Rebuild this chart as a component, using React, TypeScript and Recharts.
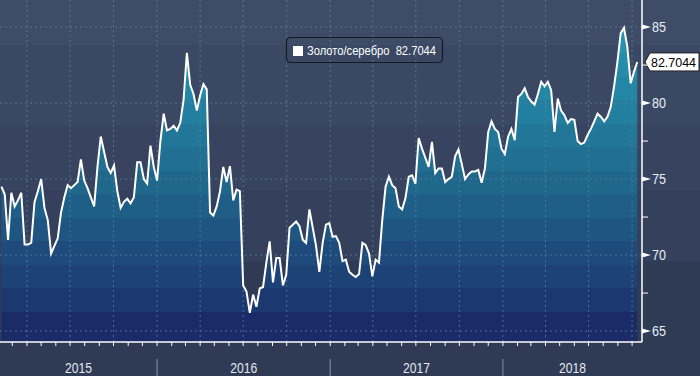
import { Area, ComposedChart, Line, ReferenceLine, XAxis, YAxis } from 'recharts';

// weekly closes, first one on 6 Feb 2015
const firstWeek = Date.UTC(2015, 1, 6);
const values2015 = [
    74.5, 74.0, 71.0, 74.1, 73.2, 73.6, 74.1, 70.7, 70.7, 70.8,
    73.5, 74.2, 75.0, 73.1, 72.3, 70.1, 70.6, 71.1, 72.8, 73.8,
    74.6, 74.4, 74.6, 74.8, 76.3, 74.9, 74.4, 73.8, 73.2, 75.8,
    77.8, 76.8, 75.8, 75.4, 75.9, 74.2, 73.1, 73.5, 73.7, 73.4,
    73.8, 76.1, 76.1, 75.0, 74.7, 77.2, 75.8,
];
const values2016 = [
    74.9, 77.5, 79.3, 78.2, 78.3, 78.5, 78.2, 78.7, 80.2, 83.3,
    81.2, 80.6, 79.5, 80.5, 81.25, 80.9, 72.8, 72.6, 73.2, 74.2,
    75.8, 74.8, 75.85, 73.6, 74.3, 74.2, 68.0, 67.6, 66.2, 67.4,
    66.6, 67.8, 67.9, 69.5, 70.9, 68.2, 69.8, 69.8, 68.0, 68.7,
    71.8, 72.0, 72.2, 71.9, 71.0, 70.8, 73.0, 71.8, 70.6, 68.9,
    70.8, 72.0, 72.1,
];
const values2017 = [
    71.2, 71.25, 70.8, 69.6, 69.7, 68.9, 68.7, 68.55, 68.75, 70.8,
    70.65, 70.1, 68.6, 69.7, 69.5, 72.3, 74.5, 75.15, 74.6, 74.4,
    73.2, 73.0, 73.75, 75.15, 75.25, 74.7, 77.7, 77.0, 76.4, 75.8,
    77.45, 75.4, 75.7, 75.7, 74.8, 75.0, 75.15, 76.5, 76.95, 76.0,
    75.0, 75.3, 75.5, 75.5, 75.6, 74.75, 75.7, 78.1, 78.8, 78.3,
    78.1, 77.0,
];
const values2018 = [
    76.65, 77.8, 78.3, 77.55, 80.4, 80.6, 80.97, 80.4, 80.1, 79.9,
    80.6, 81.4, 81.1, 81.4, 80.85, 78.1, 80.3, 79.5, 79.2, 78.7,
    78.95, 78.9, 77.5, 77.3, 77.4, 77.9, 78.3, 78.8, 79.3, 79.1,
    78.8, 79.1, 79.75, 81.1, 82.7, 84.6, 84.95, 83.7, 81.3, 82.05,
    82.7044,
];
const years = [2015, 2016, 2017, 2018];
const priceTicks = [65, 67.5, 70, 72.5, 75, 77.5, 80, 82.5, 85];
const seriesName = 'Золото/серебро';

const DAY = 86400000;
const allValues = [...values2015, ...values2016, ...values2017, ...values2018];
const data = allValues.map((v, i) => ({ t: firstWeek + i * 7 * DAY, v }));
const lastValue = allValues[allValues.length - 1];

const xStart = Date.UTC(2015, 1, 3);
const xEnd = Date.UTC(2018, 9, 22);
const yDomain = [64.28, 86.78];

const monthTicks: number[] = [];
const quarterLines: number[] = [];
years.forEach((y) => {
    for (let m = 0; m < 12; m++) {
        const t = Date.UTC(y, m, 1);
        if (t < xStart || t > xEnd) continue;
        monthTicks.push(t);
        if (m % 3 === 0) quarterLines.push(t);
    }
});

// year labels sit in the middle of the visible part of each year
const yearLabelAt = new Map<number, string>();
const yearSeparators: number[] = [];
years.forEach((y) => {
    const a = Math.max(Date.UTC(y, 0, 1), xStart);
    const b = Math.min(Date.UTC(y + 1, 0, 1), xEnd);
    yearLabelAt.set(Math.round((a + b) / 2), String(y));
    if (Date.UTC(y, 0, 1) > xStart) yearSeparators.push(Date.UTC(y, 0, 1));
});
const yearAxisTicks = [...yearLabelAt.keys(), ...yearSeparators].sort((a, b) => a - b);

const font = "'Liberation Sans', Arial, sans-serif";
const gridColor = '#5a8ba2';

const bands = [
    ['#2797b3', 0], ['#2692b0', 30], ['#258caa', 53], ['#2486a5', 77], ['#237f9f', 100],
    ['#227798', 124], ['#216f92', 147], ['#20678c', 171], ['#1f5e87', 194], ['#1e5581', 218],
    ['#1e4b7c', 241], ['#1d4276', 265], ['#1c3870', 288], ['#1b2b67', 312],
] as const;

const YearTick = (props: any) => {
    const { x, y, payload } = props;
    const label = yearLabelAt.get(payload.value);
    if (label) {
        return (
            <text x={x} y={y + 27} textAnchor="middle" fill="#e4e9f0" fontSize={15} fontFamily={font}
                textLength={27} lengthAdjust="spacingAndGlyphs">
                {label}
            </text>
        );
    }
    return <line x1={x} x2={x} y1={y + 13} y2={y + 32} stroke="#8a94a8" strokeWidth={1} />;
};

const PriceTick = (props: any) => {
    const { x, y, payload } = props;
    const v = payload.value;
    if (v % 5 !== 0) return <line x1={x} x2={x + 6} y1={y} y2={y} stroke="#fff" strokeWidth={1} />;
    return (
        <g>
            <polygon points={`${x},${y - 2.5} ${x + 9},${y} ${x},${y + 2.5}`} fill="#fff" />
            <text x={x + 10} y={y} dy="0.36em" fill="#e8eef5" fontSize={15} fontFamily={font}
                textLength={14} lengthAdjust="spacingAndGlyphs">
                {v}
            </text>
        </g>
    );
};

const LastValueTag = (props: any) => {
    const vb = props.viewBox;
    if (!vb) return null;
    const x = vb.x + vb.width + 3;
    const y = vb.y;
    return (
        <g>
            <polygon
                points={`${x},${y} ${x + 5},${y - 9} ${x + 54},${y - 9} ${x + 54},${y + 9} ${x + 5},${y + 9}`}
                fill="#fff"
                stroke="#222"
                strokeWidth={1}
            />
            <text x={x + 6} y={y} dy="0.36em" fill="#000" fontSize={13} fontFamily={font}
                textLength={45} lengthAdjust="spacingAndGlyphs">
                {lastValue}
            </text>
        </g>
    );
};

const LegendBox = () => (
    <svg width={200} height={28} style={{ position: 'absolute', left: 285, top: 36 }}>
        <rect x={1.5} y={1.5} width={156} height={25} rx={4} fill="none" stroke="#15181f" strokeWidth={1.2} />
        <rect x={8} y={10} width={10} height={10} fill="#fff" />
        <text x={22} y={15} dy="0.36em" fill="#fff" fontSize={12} fontFamily={font}
            textLength={129} lengthAdjust="spacingAndGlyphs" xmlSpace="preserve">
            {`${seriesName}  ${lastValue}`}
        </text>
    </svg>
);

export default function GoldSilverChart() {
    return (
        <div
            style={{
                position: 'absolute',
                left: 0,
                top: 0,
                width: 700,
                height: 376,
                background:
                    'linear-gradient(to bottom, #3f4c68 0px, #3f4c68 45px, #3b4864 45px, #3b4864 125px, #38445f 125px, #38445f 190px, #35415c 190px, #35415c 261px, #2f3a55 261px, #2f3a55 376px)',
            }}
        >
            <ComposedChart width={700} height={376} data={data} margin={{ top: 0, right: 0, bottom: 0, left: 0 }}>
                <defs>
                    <linearGradient id="bands" gradientUnits="userSpaceOnUse" x1={0} y1={0} x2={0} y2={342}>
                        {bands.map(([c, y0], i) => {
                            const y1 = i + 1 < bands.length ? bands[i + 1][1] : 342;
                            return [
                                <stop key={`a${i}`} offset={y0 / 342} stopColor={c} />,
                                <stop key={`b${i}`} offset={y1 / 342} stopColor={c} />,
                            ];
                        })}
                    </linearGradient>
                </defs>
                <XAxis
                    xAxisId="main"
                    dataKey="t"
                    type="number"
                    domain={[xStart, xEnd]}
                    ticks={monthTicks}
                    tickFormatter={() => ''}
                    tickSize={4}
                    height={4}
                    axisLine={{ stroke: '#fff', strokeWidth: 1.5 }}
                    tickLine={{ stroke: '#fff' }}
                    allowDataOverflow
                />
                <XAxis
                    xAxisId="years"
                    dataKey="t"
                    type="number"
                    domain={[xStart, xEnd]}
                    ticks={yearAxisTicks}
                    tick={<YearTick />}
                    tickSize={0}
                    tickMargin={0}
                    height={30}
                    axisLine={false}
                    tickLine={false}
                    interval={0}
                    allowDataOverflow
                />
                <YAxis
                    orientation="right"
                    width={58}
                    domain={yDomain}
                    ticks={priceTicks}
                    tick={<PriceTick />}
                    tickSize={0}
                    tickMargin={0}
                    interval={0}
                    axisLine={{ stroke: '#fff', strokeWidth: 1.5 }}
                    tickLine={false}
                    allowDataOverflow
                />
                <Area
                    xAxisId="main"
                    dataKey="v"
                    type="linear"
                    fill="url(#bands)"
                    fillOpacity={1}
                    stroke="none"
                    activeDot={false}
                    isAnimationActive={false}
                />
                {quarterLines.map((t) => (
                    <ReferenceLine key={`q${t}`} xAxisId="main" x={t} stroke={gridColor} strokeOpacity={0.7} strokeDasharray="2 3" />
                ))}
                {[65, 70, 75, 80, 85].map((v) => (
                    <ReferenceLine key={`h${v}`} xAxisId="main" y={v} stroke={gridColor} strokeOpacity={0.7} strokeDasharray="2 3" />
                ))}
                <Line
                    xAxisId="main"
                    dataKey="v"
                    type="linear"
                    stroke="#fff"
                    strokeWidth={2}
                    dot={false}
                    activeDot={false}
                    isAnimationActive={false}
                />
                <ReferenceLine xAxisId="main" y={lastValue} stroke="transparent" label={<LastValueTag />} />
            </ComposedChart>
            <LegendBox />
        </div>
    );
}
